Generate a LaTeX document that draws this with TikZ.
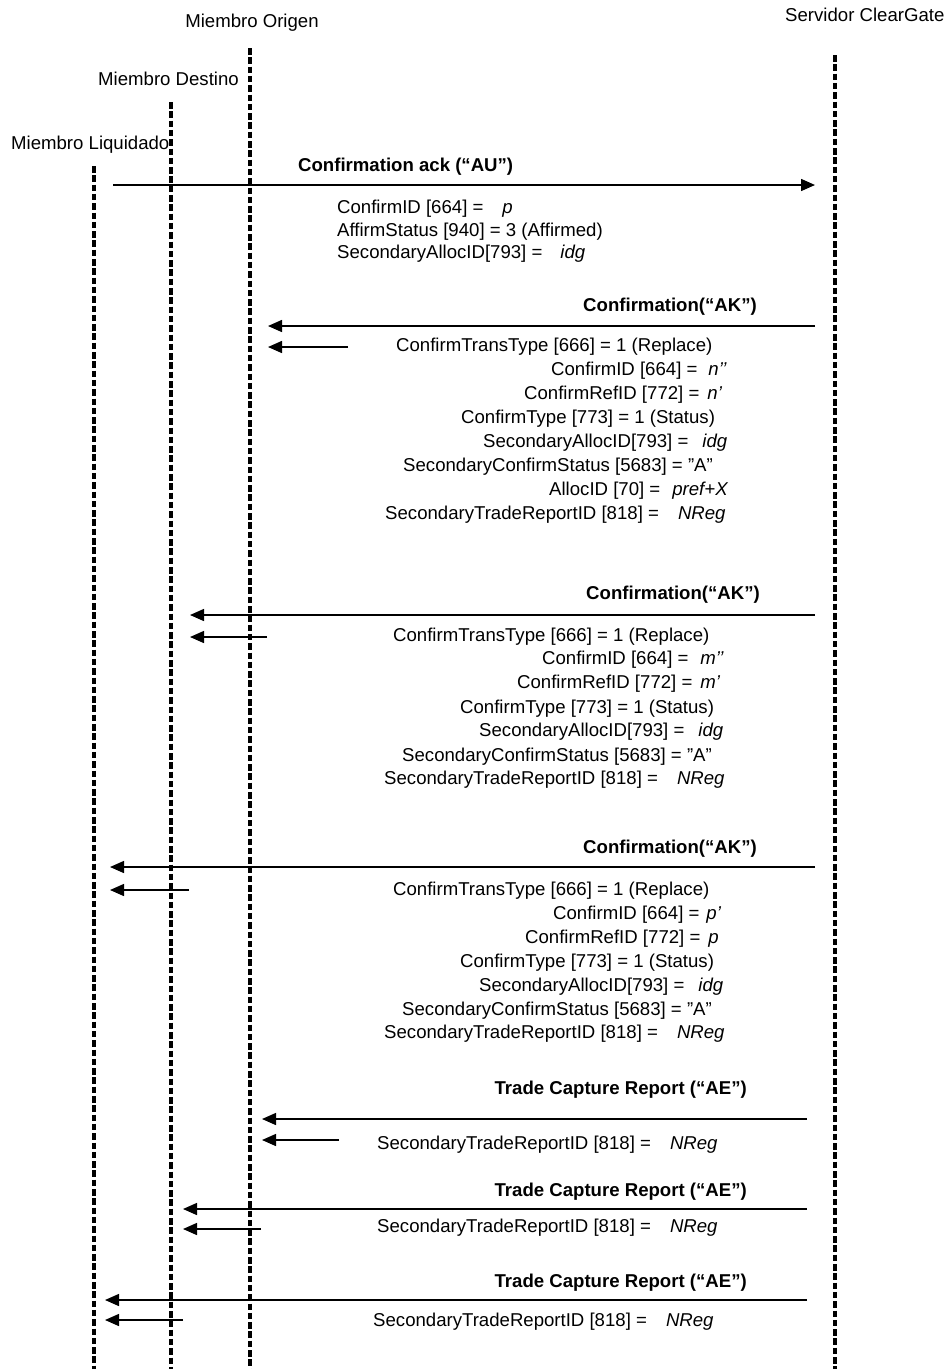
\documentclass[tikz,border=0pt]{standalone}
\usepackage{fontspec}
\setmainfont{Liberation Sans}
\usetikzlibrary{arrows.meta}
\begin{document}
\begin{tikzpicture}[x=1pt,y=-1pt,
  life/.style={line width=3.2pt, dash pattern=on 6.5pt off 2.8pt},
  msg/.style={line width=1.5pt, -{Triangle[length=14pt,width=12pt]}},
  txt/.style={inner sep=0pt, anchor=west, text height=13.5pt, text depth=3.9pt, font=\fontsize{18.6pt}{22pt}\selectfont},
  txtr/.style={txt, anchor=east},
  ttl/.style={txt, font=\fontsize{18.6pt}{22pt}\selectfont\bfseries},
  ttlr/.style={ttl, anchor=east},
  actor/.style={inner sep=0pt, text height=13.5pt, text depth=3.9pt, font=\fontsize{18.6pt}{22pt}\selectfont}
]
\useasboundingbox (0,0) rectangle (949,1369);

% actors
\node[actor] (orL) at (252,23) {Miembro Origen};
\node[actor, anchor=east] (deL) at (239,81) {Miembro Destino};
\node[actor, anchor=west] (lqL) at (11,145) {Miembro Liquidado};
\node[actor, anchor=west] (svL) at (785,17) {Servidor ClearGate};

% lifelines
\coordinate (lqT) at (94,166);  \coordinate (lqB) at (94,1369);
\coordinate (deT) at (171,102); \coordinate (deB) at (171,1369);
\coordinate (orT) at (250,48);  \coordinate (orB) at (250,1369);
\coordinate (svT) at (835,55);  \coordinate (svB) at (835,1369);
\draw[life] (lqT) -- (lqB);
\draw[life] (deT) -- (deB);
\draw[life] (orT) -- (orB);
\draw[life] (svT) -- (svB);

% message 1
\coordinate (m1a) at (113,185); \coordinate (m1b) at (815,185);
\draw[msg] (m1a) -- (m1b);
\node[ttl] (t1) at (298,167) {Confirmation ack (“AU”)};
\node[txt] (t1a) at (337,209) {ConfirmID [664] =\hspace{19pt}\textit{p}};
\node[txt] (t1b) at (337,232) {AffirmStatus [940] = 3 (Affirmed)};
\node[txt] (t1c) at (337,254) {SecondaryAllocID[793] =\hspace{18pt}\textit{idg}};

% message 2
\coordinate (m2a) at (815,326); \coordinate (m2b) at (268,326);
\coordinate (m2c) at (348,347); \coordinate (m2d) at (268,347);
\draw[msg] (m2a) -- (m2b);
\draw[msg] (m2c) -- (m2d);
\node[ttlr] (t2) at (757,307) {Confirmation(“AK”)};
\node[txt] (t2a) at (396,347) {ConfirmTransType [666] = 1 (Replace)};
\node[txt] (t2b) at (551,371) {ConfirmID [664] =\hspace{11pt}\textit{n’’}};
\node[txt] (t2c) at (524,395) {ConfirmRefID [772] =\hspace{8pt}\textit{n’}};
\node[txt] (t2d) at (461,419) {ConfirmType [773] = 1 (Status)};
\node[txt] (t2e) at (483,443) {SecondaryAllocID[793] =\hspace{14pt}\textit{idg}};
\node[txt] (t2f) at (403,467) {SecondaryConfirmStatus [5683] = ”A”};
\node[txt] (t2g) at (549,491) {AllocID [70] =\hspace{12pt}\textit{pref+X}};
\node[txt] (t2h) at (385,515) {SecondaryTradeReportID [818] =\hspace{19pt}\textit{NReg}};

% message 3
\coordinate (m3a) at (815,615); \coordinate (m3b) at (190,615);
\coordinate (m3c) at (267,637); \coordinate (m3d) at (190,637);
\draw[msg] (m3a) -- (m3b);
\draw[msg] (m3c) -- (m3d);
\node[ttlr] (t3) at (760,595) {Confirmation(“AK”)};
\node[txt] (t3a) at (393,637) {ConfirmTransType [666] = 1 (Replace)};
\node[txt] (t3b) at (542,660) {ConfirmID [664] =\hspace{12pt}\textit{m’’}};
\node[txt] (t3c) at (517,684) {ConfirmRefID [772] =\hspace{8pt}\textit{m’}};
\node[txt] (t3d) at (460,709) {ConfirmType [773] = 1 (Status)};
\node[txt] (t3e) at (479,732) {SecondaryAllocID[793] =\hspace{14pt}\textit{idg}};
\node[txt] (t3f) at (402,757) {SecondaryConfirmStatus [5683] = ”A”};
\node[txt] (t3g) at (384,780) {SecondaryTradeReportID [818] =\hspace{19pt}\textit{NReg}};

% message 4
\coordinate (m4a) at (815,867); \coordinate (m4b) at (110,867);
\coordinate (m4c) at (189,890); \coordinate (m4d) at (110,890);
\draw[msg] (m4a) -- (m4b);
\draw[msg] (m4c) -- (m4d);
\node[ttlr] (t4) at (757,849) {Confirmation(“AK”)};
\node[txt] (t4a) at (393,891) {ConfirmTransType [666] = 1 (Replace)};
\node[txt] (t4b) at (553,915) {ConfirmID [664] =\hspace{7pt}\textit{p’}};
\node[txt] (t4c) at (525,939) {ConfirmRefID [772] =\hspace{8pt}\textit{p}};
\node[txt] (t4d) at (460,963) {ConfirmType [773] = 1 (Status)};
\node[txt] (t4e) at (479,987) {SecondaryAllocID[793] =\hspace{14pt}\textit{idg}};
\node[txt] (t4f) at (402,1011) {SecondaryConfirmStatus [5683] = ”A”};
\node[txt] (t4g) at (384,1034) {SecondaryTradeReportID [818] =\hspace{19pt}\textit{NReg}};

% message 5
\coordinate (m5a) at (807,1119); \coordinate (m5b) at (262,1119);
\coordinate (m5c) at (339,1140); \coordinate (m5d) at (262,1140);
\draw[msg] (m5a) -- (m5b);
\draw[msg] (m5c) -- (m5d);
\node[ttlr] (t5) at (747,1090) {Trade Capture Report (“AE”)};
\node[txt] (t5a) at (377,1145) {SecondaryTradeReportID [818] =\hspace{19pt}\textit{NReg}};

% message 6
\coordinate (m6a) at (807,1209); \coordinate (m6b) at (183,1209);
\coordinate (m6c) at (261,1229); \coordinate (m6d) at (183,1229);
\draw[msg] (m6a) -- (m6b);
\draw[msg] (m6c) -- (m6d);
\node[ttlr] (t6) at (747,1192) {Trade Capture Report (“AE”)};
\node[txt] (t6a) at (377,1228) {SecondaryTradeReportID [818] =\hspace{19pt}\textit{NReg}};

% message 7
\coordinate (m7a) at (807,1300); \coordinate (m7b) at (105,1300);
\coordinate (m7c) at (183,1320); \coordinate (m7d) at (105,1320);
\draw[msg] (m7a) -- (m7b);
\draw[msg] (m7c) -- (m7d);
\node[ttlr] (t7) at (747,1283) {Trade Capture Report (“AE”)};
\node[txt] (t7a) at (373,1322) {SecondaryTradeReportID [818] =\hspace{19pt}\textit{NReg}};
\end{tikzpicture}
\end{document}
